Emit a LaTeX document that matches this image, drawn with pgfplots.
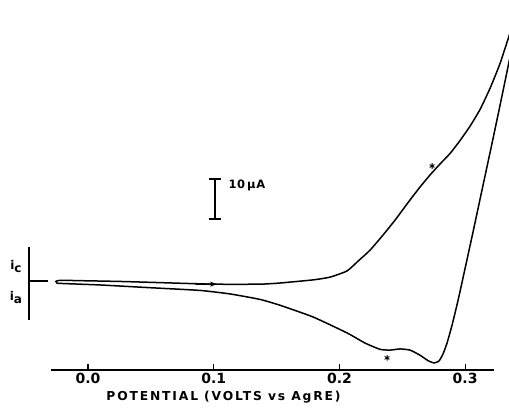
\documentclass[border=0pt]{standalone}
\usepackage{fontspec}
\setmainfont{DejaVu Sans}
\usepackage{pgfplots}
\pgfplotsset{compat=1.18}
\usetikzlibrary{arrows.meta}
\begin{document}
\begin{tikzpicture}
\begin{axis}[
  scale only axis, width=443pt, height=370pt,
  xmin=-0.0294, xmax=0.323, ymin=-22.8, ymax=72.05,
  axis x line=bottom, axis y line=none,
  axis line style={-, line width=1.5pt},
  xtick={0,0.1,0.2,0.3}, xticklabels={0.0,0.1,0.2,0.3},
  /pgf/number format/assume math mode=true,
  tick align=inside, major tick length=6pt,
  tick style={line width=1.1pt, black},
  xticklabel style={font=\bfseries\fontsize{14}{16}\selectfont},
  clip=false,
]
\addplot[line width=1.5pt, smooth, tension=0.3] table {
x y
0.3357 63.6
0.3278 55.8
0.3198 49.4
0.3119 44.0
0.3039 39.7
0.2959 36.0
0.2880 32.7
0.2800 30.0
0.2721 27.2
0.2641 24.1
0.2562 20.8
0.2442 15.6
0.2347 11.8
0.2243 7.9
0.2148 5.1
0.2061 2.6
0.1925 1.0
0.1790 0.3
0.1527 -0.5
0.1368 -0.8
0.0994 -0.8
0.0573 -0.4
0.0255 -0.1
-0.0064 0.1
-0.0223 0.2
-0.0255 -0.1
-0.0247 -0.5
-0.0223 -0.6
0.0095 -1.0
0.0493 -1.7
0.0891 -2.4
0.1130 -3.3
0.1368 -4.7
0.1527 -6.2
0.1790 -9.2
0.2061 -13.3
0.2204 -15.9
0.2323 -17.5
0.2403 -17.7
0.2482 -17.4
0.2562 -17.7
0.2641 -19.0
0.2705 -20.4
0.2753 -21.0
0.2792 -20.5
0.2824 -18.7
0.2856 -15.9
0.2896 -11.3
0.2944 -4.9
0.3000 3.3
0.3063 12.6
0.3134 23.3
0.3206 34.1
0.3278 45.1
0.3357 57.4
};
% direction arrow
\addplot[line width=1.5pt, -{Stealth[length=7pt,width=5pt]}] coordinates {(0.085,-0.75) (0.1026,-0.8)};
% stars
\addplot[only marks, mark=asterisk, mark size=2.8pt, mark options={line width=0.9pt}] coordinates {(0.2737,29.5) (0.2379,-19.7)};
% scale bar
\addplot[line width=1.3pt] coordinates {(0.1010,26.2) (0.1010,15.9)};
\addplot[line width=1.3pt] coordinates {(0.0962,15.9) (0.1058,15.9)};
\addplot[line width=1.3pt] coordinates {(0.0962,26.2) (0.1058,26.2)};
\node[anchor=west, font=\bfseries\fontsize{11.5}{13}\selectfont\addfontfeatures{LetterSpace=6}] at (axis cs:0.1090,24.4) {10\,μA};
% current direction bar
\addplot[line width=1.2pt] coordinates {(-0.0469,8.7) (-0.0469,-10.0)};
\addplot[line width=1.2pt] coordinates {(-0.0469,0) (-0.0318,0)};
\node[font=\bfseries\fontsize{12}{14}\selectfont] at (axis cs:-0.0573,3.8) {i\raisebox{-0.25em}{c}};
\node[font=\bfseries\fontsize{12}{14}\selectfont] at (axis cs:-0.0573,-4.3) {i\raisebox{-0.25em}{a}};
% x label
\node[font=\bfseries\fontsize{12.3}{14}\selectfont\addfontfeatures{LetterSpace=15}] at (axis cs:0.1078,-29.7) {POTENTIAL (VOLTS vs AgRE)};
\coordinate (bl) at (axis cs:-0.0700,-33.1);
\coordinate (tr) at (axis cs:0.3349,72.05);
\end{axis}
\pgfresetboundingbox
\path[use as bounding box] (bl) rectangle (tr);
\end{tikzpicture}
\end{document}
